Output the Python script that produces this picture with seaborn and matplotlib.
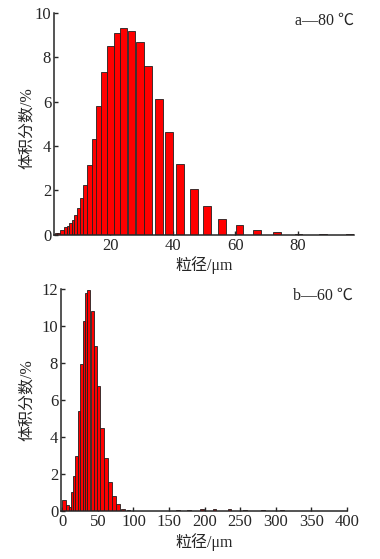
import numpy as np
import matplotlib
matplotlib.use("Agg")
import matplotlib.pyplot as plt
import seaborn as sns

# panel a: 80 C, particle size (um) vs volume fraction (%)
a_size = [2.75, 3.55, 4.55, 5.6, 6.5, 7.3, 8.1, 8.9, 9.75, 10.75, 12.0, 13.4,
          14.9, 16.4, 18.1, 20.1, 22.15, 24.35, 26.8, 29.5, 32.1, 35.65, 38.85,
          42.4, 46.85, 51.05, 55.75, 61.35, 66.85, 73.35, 80.2, 88.0, 96.65]
a_frac = [0.06, 0.1, 0.2, 0.33, 0.4, 0.53, 0.68, 0.87, 1.2, 1.65, 2.26, 3.16,
          4.32, 5.79, 7.32, 8.5, 9.07, 9.32, 9.2, 8.68, 7.62, 6.12, 4.62,
          3.17, 2.08, 1.3, 0.73, 0.44, 0.22, 0.13, 0.05, 0.03, 0.03]

# panel b: 60 C
b_size = [2, 7, 11, 14, 17, 20, 23.5, 27, 30, 33, 37, 42, 46.5, 51, 56, 61,
          66.5, 72, 78, 85, 93, 148, 162, 178, 196, 214, 235, 257, 282, 309]
b_frac = [0.6, 0.35, 0.25, 1.05, 1.9, 3.0, 5.4, 7.95, 10.3, 11.8, 11.95, 10.8,
          8.95, 6.75, 4.5, 2.9, 1.6, 0.85, 0.4, 0.15, 0.06, 0.05, 0.08, 0.08,
          0.15, 0.15, 0.15, 0.07, 0.07, 0.07]

a_ticks = [20, 40, 60, 80]
a_yticks = [0, 2, 4, 6, 8, 10]
b_ticks = [0, 50, 100, 150, 200, 250, 300, 350, 400]
b_yticks = [0, 2, 4, 6, 8, 10, 12]

sns.set_style("ticks")
plt.rcParams['font.family'] = ['Liberation Serif', 'Noto Sans CJK SC', 'DejaVu Sans']
plt.rcParams['font.size'] = 11

fig = plt.figure(figsize=(3.8, 5.59), dpi=100)
ax1 = fig.add_axes([0.142, 0.580, 0.790, 0.397])
ax2 = fig.add_axes([0.1605, 0.085, 0.752, 0.398])


def draw(ax, x, y, cap, label, xlim, ylim, xt, yt, lx, ly, ylx, yly):
    x = np.array(x)
    w = np.minimum(np.gradient(x), cap)
    ax.bar(x, y, width=w, color='#ff0000', edgecolor='#202020', linewidth=0.6)
    ax.set_xlim(*xlim)
    ax.set_ylim(*ylim)
    ax.set_xticks(xt)
    ax.set_yticks(yt)
    ax.tick_params(direction='in', length=3, width=1, pad=2, labelsize=12)
    sns.despine(ax=ax)
    for s in ['left', 'bottom']:
        ax.spines[s].set_linewidth(1.1)
    ax.set_xlabel('粒径/μm', fontsize=11.5, labelpad=2)
    ax.set_ylabel('体积分数/%', fontsize=11.5)
    ax.yaxis.set_label_coords(ylx, yly)
    ax.text(lx, ly, label, transform=ax.transAxes, ha='right', va='center',
            fontsize=11.5)


draw(ax1, a_size, a_frac, 2.5, 'a—80 ℃', (2, 98), (0, 10), a_ticks, a_yticks,
     1.0, 0.965, -0.064, 0.48)
draw(ax2, b_size, b_frac, 5.5, 'b—60 ℃', (-2, 400), (0, 12), b_ticks, b_yticks,
     1.02, 0.97, -0.091, 0.5)

fig.savefig('out.png', dpi=100)
